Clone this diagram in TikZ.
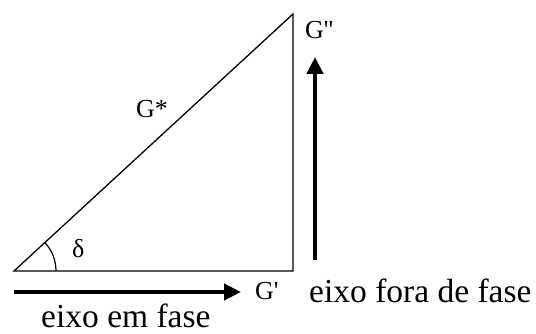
\documentclass[tikz,border=0pt]{standalone}
\usepackage{fontspec}
\setmainfont{Liberation Serif}
\usetikzlibrary{arrows.meta}
\begin{document}
\begin{tikzpicture}[x=1pt,y=-1pt,
  tri/.style={line width=1.3pt},
  bigarrow/.style={line width=4.5pt,-{Triangle[length=17pt,width=16pt]}},
  axislabel/.style={font=\fontsize{33.5}{36}\selectfont,anchor=base west,inner sep=0pt},
  glabel/.style={font=\fontsize{26}{28}\selectfont,anchor=base west,inner sep=0pt}]
\useasboundingbox (0,0) rectangle (536,334);
\coordinate (O) at (14,271);
\coordinate (R) at (293,271);
\coordinate (T) at (293,14);
\draw[tri] (O) -- (R) -- (T) -- cycle;
\draw[line width=1.2pt] ([shift={(42,0)}]O) arc[start angle=0,end angle=-42.6,radius=42];
\coordinate (h0) at (14,292);
\coordinate (h1) at (241,292);
\draw[bigarrow] (h0) -- (h1);
\coordinate (v0) at (315,260);
\coordinate (v1) at (315,57);
\draw[bigarrow] (v0) -- (v1);
\node[glabel] (gpp) at (305,39) {G\textquotesingle\textquotesingle};
\node[glabel] (gp) at (255,299) {G\textquotesingle};
\node[glabel] (gs) at (136,118) {G*};
\node[glabel] (d) at (72,258) {δ};
\node[axislabel] (ef) at (309,302) {eixo fora de fase};
\node[axislabel] (em) at (41,327) {eixo em fase};
\end{tikzpicture}
\end{document}
